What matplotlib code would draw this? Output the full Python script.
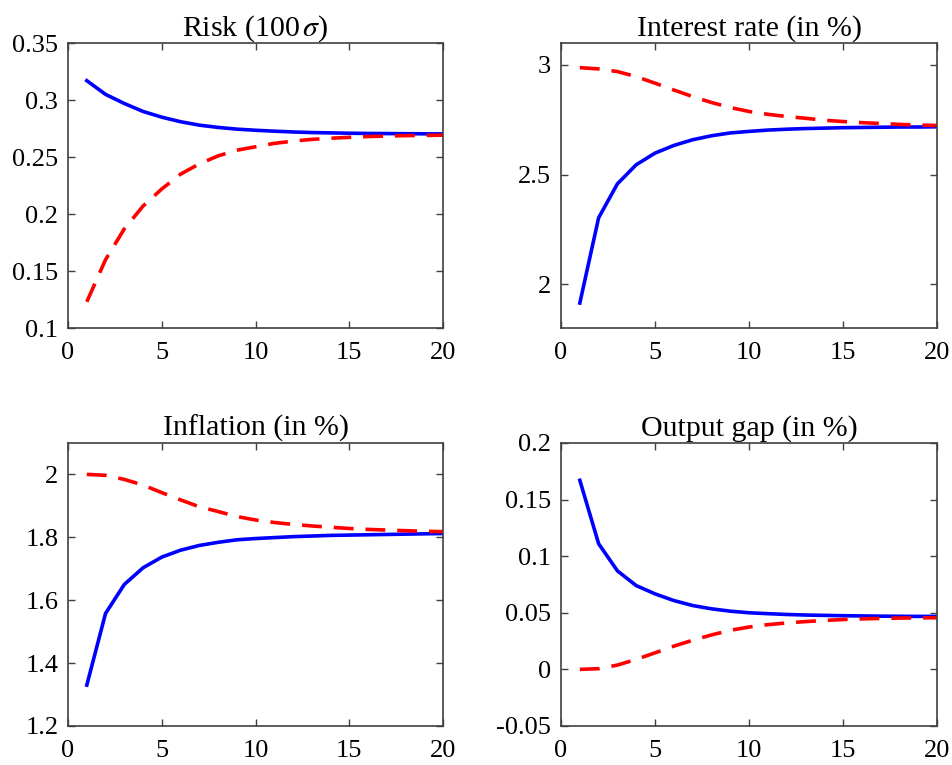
import numpy as np
import matplotlib
matplotlib.use("Agg")
import matplotlib.pyplot as plt
from matplotlib.ticker import FuncFormatter

# Horizon
periods = np.arange(1, 21)

# Risk (100 sigma)
risk_solid = [0.317, 0.305, 0.297, 0.290, 0.285, 0.281, 0.278, 0.276, 0.2745, 0.2735,
              0.2727, 0.2720, 0.2715, 0.2712, 0.2709, 0.2707, 0.2706, 0.2705, 0.2704, 0.2703]
risk_dashed = [0.123, 0.160, 0.187, 0.207, 0.222, 0.235, 0.244, 0.251, 0.256, 0.259,
               0.262, 0.264, 0.2655, 0.2665, 0.2673, 0.268, 0.2684, 0.2688, 0.269, 0.2692]

# Interest rate (in %)
rate_solid = [1.914, 2.303, 2.458, 2.545, 2.598, 2.633, 2.659, 2.677, 2.690, 2.697,
              2.703, 2.707, 2.710, 2.712, 2.714, 2.715, 2.716, 2.717, 2.717, 2.718]
rate_dashed = [2.988, 2.982, 2.970, 2.947, 2.917, 2.886, 2.856, 2.829, 2.806, 2.788,
               2.775, 2.765, 2.757, 2.748, 2.742, 2.737, 2.733, 2.729, 2.726, 2.724]

# Inflation (in %)
infl_solid = [1.330, 1.558, 1.650, 1.703, 1.737, 1.759, 1.774, 1.784, 1.792, 1.796,
              1.799, 1.802, 1.804, 1.806, 1.807, 1.808, 1.809, 1.810, 1.811, 1.812]
infl_dashed = [2.000, 1.997, 1.984, 1.966, 1.942, 1.919, 1.897, 1.882, 1.866, 1.855,
               1.847, 1.841, 1.836, 1.832, 1.828, 1.825, 1.823, 1.821, 1.819, 1.818]

# Output gap (in %)
gap_solid = [0.167, 0.111, 0.087, 0.074, 0.0667, 0.0608, 0.0564, 0.0535, 0.0514, 0.0500,
             0.0492, 0.0485, 0.0480, 0.0477, 0.0474, 0.0472, 0.0470, 0.0469, 0.0468, 0.0468]
gap_dashed = [0.0, 0.0006, 0.0038, 0.0088, 0.0146, 0.0205, 0.0257, 0.0304, 0.0345, 0.0374,
              0.0395, 0.041, 0.0422, 0.0432, 0.044, 0.0446, 0.045, 0.0453, 0.0455, 0.0456]

titles = ["Risk (100$\\,\\sigma$)", "Interest rate (in %)", "Inflation (in %)", "Output gap (in %)"]
ylims = [(0.1, 0.35), (1.8, 3.1), (1.2, 2.1), (-0.05, 0.2)]
yticks = [[0.1, 0.15, 0.2, 0.25, 0.3, 0.35], [2, 2.5, 3],
          [1.2, 1.4, 1.6, 1.8, 2.0], [-0.05, 0, 0.05, 0.1, 0.15, 0.2]]
solids = [risk_solid, rate_solid, infl_solid, gap_solid]
dashes = [risk_dashed, rate_dashed, infl_dashed, gap_dashed]

plt.rcParams["font.family"] = ["Liberation Serif", "DejaVu Serif"]
plt.rcParams["mathtext.fontset"] = "stix"

fig = plt.figure(figsize=(9.53, 7.65), dpi=100)
positions = [
    [0.0714, 0.5712, 0.3935, 0.3725],
    [0.5887, 0.5712, 0.3945, 0.3725],
    [0.0714, 0.0510, 0.3935, 0.3700],
    [0.5887, 0.0510, 0.3945, 0.3700],
]

axis_color = "#404040"
for i in range(4):
    ax = fig.add_axes(positions[i])
    ax.plot(periods, solids[i], color="blue", lw=2.6)
    ax.plot(periods, dashes[i], color="red", lw=2.6, ls=(0, (5.5, 3.3)))
    ax.set_xlim(0, 20)
    ax.set_ylim(*ylims[i])
    ax.set_xticks([0, 5, 10, 15, 20])
    ax.set_yticks(yticks[i])
    ax.yaxis.set_major_formatter(FuncFormatter(lambda v, p: ("%g" % round(v, 4))))
    ax.set_title(titles[i], fontsize=21.5, pad=5)
    ax.tick_params(direction="in", top=True, right=True, length=5, width=1,
                   color=axis_color, labelsize=19, labelcolor="black", pad=7)
    ax.tick_params(axis="x", pad=10)
    for s in ax.spines.values():
        s.set_color(axis_color)
        s.set_linewidth(1.2)

fig.savefig("out.png", dpi=100)
